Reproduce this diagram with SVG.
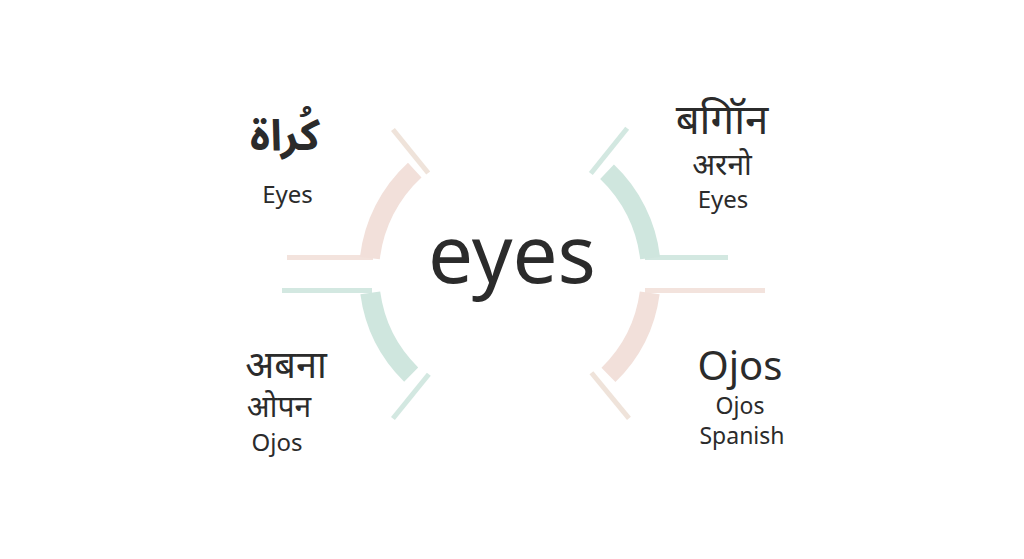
<svg xmlns="http://www.w3.org/2000/svg" width="1024" height="559" viewBox="0 0 1024 559">
<style>
.t{font-family:"Noto Sans","Noto Sans Devanagari","Noto Sans Arabic","DejaVu Sans",sans-serif;fill:#2b2b2b;text-anchor:middle}
.pink{fill:#f2e0da}
.green{fill:#cfe6de}
.pl{fill:#f3e3dd}
.gl{fill:#d3e8e1}
.pd{stroke:#efe3da;stroke-width:5;fill:none}
.gd{stroke:#d3e8e1;stroke-width:5;fill:none}
</style>
<rect width="1024" height="559" fill="#ffffff"/>
<g id="connectors">
  <g id="arc-tl">
    <rect class="pl" x="287" y="255" width="86" height="5"/>
    <path class="pink" d="M359.97,256.91 A151 151 0 0 1 407.99,162.67 L421.5,177.42 A131 131 0 0 0 379.84,259.17 Z"/>
    <line class="pd" x1="428.19" y1="172.97" x2="392.95" y2="129.45"/>
  </g>
  <g id="arc-tr">
    <rect class="gl" x="645" y="255" width="83" height="5"/>
    <path class="green" d="M613.94,164.47 A151 151 0 0 1 660.03,256.91 L640.16,259.17 A131 131 0 0 0 600.17,178.98 Z"/>
    <line class="gd" x1="590.83" y1="173.47" x2="627.17" y2="128.26"/>
  </g>
  <g id="arc-bl">
    <rect class="gl" x="282" y="288" width="90" height="5"/>
    <path class="green" d="M404.16,381.7 A151 151 0 0 1 360.36,294.23 L380.18,291.55 A131 131 0 0 0 418.18,367.44 Z"/>
    <line class="gd" x1="428.82" y1="374.25" x2="392.95" y2="418.55"/>
  </g>
  <g id="arc-br">
    <rect class="pl" x="645" y="288" width="120" height="5"/>
    <path class="pink" d="M659.64,294.23 A151 151 0 0 1 615.44,382.09 L601.48,367.77 A131 131 0 0 0 639.82,291.55 Z"/>
    <line class="pd" x1="591.42" y1="372.77" x2="628.95" y2="418.29"/>
  </g>
</g>
<g id="center">
  <text class="t" x="512" y="283" font-size="80">eyes</text>
</g>
<g id="node-tl">
  <text class="t" x="285" y="150" font-size="43" font-weight="bold" font-family="'Noto Sans Arabic','DejaVu Sans',sans-serif">كُراة</text>
  <text class="t" x="287.5" y="203" font-size="24">Eyes</text>
</g>
<g id="node-tr">
  <text class="t" x="722" y="134" font-size="42">बगिॉन</text>
  <text class="t" x="722" y="175" font-size="30">अरनो</text>
  <text class="t" x="723" y="208" font-size="24">Eyes</text>
</g>
<g id="node-bl">
  <text class="t" x="286" y="378" font-size="38">अबना</text>
  <text class="t" x="279" y="417" font-size="30">ओपन</text>
  <text class="t" x="277" y="451" font-size="24">Ojos</text>
</g>
<g id="node-br">
  <text class="t" x="740" y="380" font-size="40">Ojos</text>
  <text class="t" x="740" y="414" font-size="23">Ojos</text>
  <text class="t" x="742" y="444" font-size="23">Spanish</text>
</g>
</svg>
